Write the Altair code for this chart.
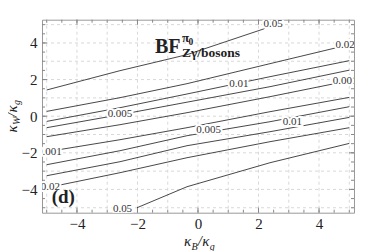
import altair as alt
import pandas as pd

# ---- data ----
line_levels = ["0.05", "0.02", "0.01", "0.005", "0.001",
               "0.001", "0.005", "0.01", "0.02", "0.05"]
line_x = [
    [-5, -2.578, -0.364, 2.171, 2.445],
    [-5, -2.578, -0.364, 2.379, 5],
    [-5, -2.578, -0.364, 2.379, 5],
    [-5, -2.578, -0.364, 2.379, 5],
    [-5, -2.578, -0.364, 2.379, 5],
    [-5, -2.578, -0.364, 2.379, 5],
    [-5, -2.578, -0.364, 2.379, 5],
    [-5, -2.578, -0.364, 2.379, 5],
    [-5, -2.578, -0.364, 2.379, 5],
    [-2.016, -0.364, 2.379, 5],
]
line_y = [
    [1.432, 2.486, 3.361, 4.765, 5.0],
    [0.262, 1.011, 1.776, 2.869, 3.907],
    [-0.284, 0.464, 1.213, 2.158, 3.033],
    [-0.628, 0.082, 0.765, 1.612, 2.514],
    [-1.120, -0.464, 0.191, 1.066, 1.940],
    [-1.940, -1.284, -0.628, 0.246, 1.027],
    [-2.650, -1.885, -1.066, -0.301, 0.519],
    [-3.251, -2.486, -1.612, -0.847, -0.066],
    [-3.907, -3.087, -2.268, -1.393, -0.628],
    [-5.0, -3.852, -2.541, -1.486],
]

label_text = ["0.05", "0.02", "0.01", "0.005", "0.001", "0.001", "0.005", "0.01", "0.02", "0.05"]
label_x = [2.48, 4.86, 1.354, -2.578, 4.86, -4.91, 0.354, 3.12, -4.88, -2.495]
label_y = [5.05, 3.89, 1.776, 0.120, 1.94, -1.94, -0.754, -0.30, -3.89, -5.07]

grid_vals = [-5, -4, -3, -2, -1, 0, 1, 2, 3, 4, 5]
minor_ticks = [-5, -4.5, -4, -3.5, -3, -2.5, -2, -1.5, -1, -0.5, 0,
               0.5, 1, 1.5, 2, 2.5, 3, 3.5, 4, 4.5, 5]
major_ticks = [-4, -2, 0, 2, 4]

# ---- build ----
W, H = 312, 193
SERIF = "Liberation Serif"
xs = alt.Scale(domain=[-5.155, 5.155], nice=False, zero=False)
ys = alt.Scale(domain=[-5.27, 5.27], nice=False, zero=False)

rows = []
for i, (lx, ly) in enumerate(zip(line_x, line_y)):
    for j, (a, b) in enumerate(zip(lx, ly)):
        rows.append({"id": i, "ord": j, "x": a, "y": b})
lines_df = pd.DataFrame(rows)
labels_df = pd.DataFrame({"t": label_text, "x": label_x, "y": label_y})
grid_df = pd.DataFrame({"v": grid_vals})
minor_df = pd.DataFrame({"v": minor_ticks})
major_df = pd.DataFrame({"v": major_ticks})

xaxis = alt.Axis(values=major_ticks, title=None, grid=False, domain=False, ticks=False,
                 labelFont=SERIF, labelFontSize=15, labelColor="#222", labelPadding=4,
                 format="d")
yaxis = alt.Axis(values=major_ticks, title=None, grid=False, domain=False, ticks=False,
                 labelFont=SERIF, labelFontSize=15, labelColor="#222", labelPadding=5,
                 format="d")

vgrid = alt.Chart(grid_df).mark_rule(color="#d8d8d8", strokeDash=[3, 3], strokeWidth=1).encode(
    x=alt.X("v:Q", scale=xs, axis=xaxis))
hgrid = alt.Chart(grid_df).mark_rule(color="#d8d8d8", strokeDash=[3, 3], strokeWidth=1).encode(
    y=alt.Y("v:Q", scale=ys, axis=yaxis))

tick_col = "#888"
def xticks(df, length):
    b = alt.Chart(df).mark_rule(color=tick_col, strokeWidth=1)
    return (b.encode(x=alt.X("v:Q", scale=xs), y=alt.value(H), y2=alt.value(H - length)) +
            b.encode(x=alt.X("v:Q", scale=xs), y=alt.value(0), y2=alt.value(length)))
def yticks(df, length):
    b = alt.Chart(df).mark_rule(color=tick_col, strokeWidth=1)
    return (b.encode(y=alt.Y("v:Q", scale=ys), x=alt.value(0), x2=alt.value(length)) +
            b.encode(y=alt.Y("v:Q", scale=ys), x=alt.value(W), x2=alt.value(W - length)))

contours = alt.Chart(lines_df).mark_line(color="#333", strokeWidth=0.9, clip=True).encode(
    x=alt.X("x:Q", scale=xs), y=alt.Y("y:Q", scale=ys),
    detail="id:N", order="ord:Q")

halo = alt.Chart(labels_df).mark_text(font=SERIF, fontSize=11, color="white", stroke="white",
                                      strokeWidth=4, clip=True).encode(
    x=alt.X("x:Q", scale=xs), y=alt.Y("y:Q", scale=ys), text="t:N")
ltext = alt.Chart(labels_df).mark_text(font=SERIF, fontSize=11, color="#333", clip=True).encode(
    x=alt.X("x:Q", scale=xs), y=alt.Y("y:Q", scale=ys), text="t:N")

one = pd.DataFrame({"a": [0]})
def txt(s, x, y, size, italic=False, bold=False, angle=0):
    kw = dict(text=s, font=SERIF, fontSize=size, align="left", baseline="alphabetic", color="#222")
    if italic:
        kw["fontStyle"] = "italic"
    if bold:
        kw["fontWeight"] = "bold"
    if angle:
        kw["angle"] = angle
    return alt.Chart(one).mark_text(**kw).encode(x=alt.value(x), y=alt.value(y))

# x-axis title  κ_B/κ_g
xt = (txt("κ", 142, 226.8, 15, italic=True) + txt("B", 149.5, 230.3, 10, italic=True) +
      txt("/", 155.8, 226.8, 15, italic=True) + txt("κ", 160.2, 226.8, 15, italic=True) +
      txt("g", 167.8, 230.3, 10, italic=True))
# y-axis title κ_W/κ_g (rotated)
yt = (txt("κ", -25.5, 112.8, 15, italic=True, angle=270) +
      txt("W", -22, 105.3, 10, italic=True, angle=270) +
      txt("/", -25.5, 97.2, 15, italic=True, angle=270) +
      txt("κ", -25.5, 92.8, 15, italic=True, angle=270) +
      txt("g", -22, 85.2, 10, italic=True, angle=270))
# plot title
tt = (txt("BF", 113, 33.6, 20, bold=True) + txt("π", 140, 22.8, 13, bold=True) +
      txt("0", 146.5, 25, 9.5, bold=True) + txt("Zγ/bosons", 140, 37.5, 13.5, bold=True))
panel = txt("(d)", 9.7, 183.8, 19, bold=True)

chart = alt.layer(
    vgrid, hgrid,
    xticks(minor_df, 3), yticks(minor_df, 3), xticks(major_df, 5), yticks(major_df, 5),
    contours, halo, ltext, xt, yt, tt, panel
).properties(
    width=W, height=H,
    autosize=alt.AutoSizeParams(type="none"),
    padding={"left": 34, "top": 11.7, "right": 12, "bottom": 38},
).configure_view(stroke="#999", strokeWidth=1)

chart.save("out.html", embed_options={"renderer": "svg", "actions": False})
